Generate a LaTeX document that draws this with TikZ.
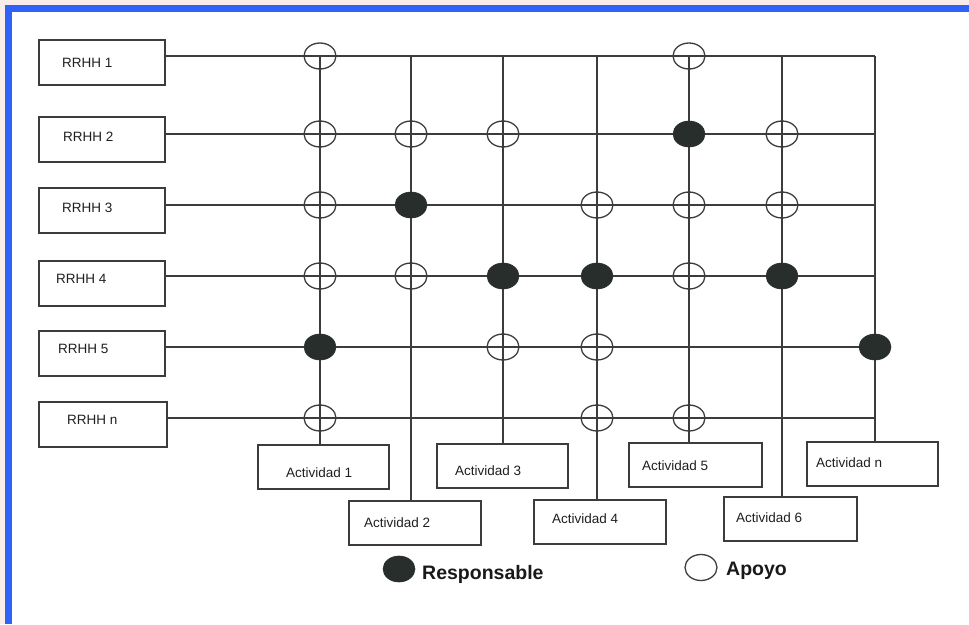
\documentclass[tikz,border=0pt]{standalone}
\usepackage{fontspec}
\setmainfont{Liberation Sans}
\usetikzlibrary{shapes.geometric}
\definecolor{frameblue}{RGB}{47,98,247}
\definecolor{paper}{RGB}{248,237,232}
\definecolor{ink}{RGB}{60,60,60}
\definecolor{dotfill}{RGB}{40,46,43}
\begin{document}
\begin{tikzpicture}[x=1pt,y=-1pt,
  rowbox/.style={draw=ink, line width=1.5pt, minimum width=126pt, minimum height=45pt, inner sep=0pt},
  actbox/.style={draw=ink, line width=1.5pt, minimum width=132pt, minimum height=44pt, inner sep=0pt},
  lbl/.style={anchor=west, inner sep=0pt, text=black!88, font=\fontsize{13.5}{16}\selectfont},
  legtext/.style={anchor=base west, inner sep=0pt, text=black!90, font=\fontsize{19.5}{22}\selectfont\bfseries},
  wire/.style={draw=ink, line width=1.3pt},
  apoyo/.style={ellipse, draw=ink, line width=1.3pt, minimum width=32pt, minimum height=26pt, inner sep=0pt},
  resp/.style={ellipse, fill=dotfill, draw=dotfill, line width=0.6pt, minimum width=32pt, minimum height=26pt, inner sep=0pt}]
\useasboundingbox (0,0) rectangle (969,624);
% page and blue frame
\fill[paper] (0,0) rectangle (969,624);
\fill[white] (11.5,11.5) rectangle (969,624);
\fill[frameblue] (5,5) rectangle (969,11.5);
\fill[frameblue] (5,5) rectangle (11.5,624);

% grid points: rows (resources) x columns (activities)
\foreach \j/\x in {1/320,2/411,3/503,4/597,5/689,6/782,n/875}
  \foreach \i/\y in {1/56,2/134,3/205,4/276,5/347,n/418}
    \coordinate (g-\i-\j) at (\x,\y);

% resource boxes
\node[rowbox] (r-1) at (102,62.5) {};
\node[rowbox] (r-2) at (102,139.5) {};
\node[rowbox] (r-3) at (102,210.5) {};
\node[rowbox] (r-4) at (102,283.5) {};
\node[rowbox] (r-5) at (102,353.5) {};
\node[rowbox, minimum width=128pt] (r-n) at (103,424.5) {};
\node[lbl] (t-r1) at (62,63) {RRHH 1};
\node[lbl] (t-r2) at (63,137) {RRHH 2};
\node[lbl] (t-r3) at (62,208) {RRHH 3};
\node[lbl] (t-r4) at (56,279) {RRHH 4};
\node[lbl] (t-r5) at (58,349) {RRHH 5};
\node[lbl] (t-rn) at (67,420) {RRHH n};

% activity boxes
\node[actbox, minimum width=131pt] (a-1) at (323.5,467) {};
\node[actbox] (a-2) at (415,523) {};
\node[actbox, minimum width=131pt] (a-3) at (502.5,466) {};
\node[actbox] (a-4) at (600,522) {};
\node[actbox, minimum width=133pt] (a-5) at (695.5,465) {};
\node[actbox, minimum width=133pt] (a-6) at (790.5,519) {};
\node[actbox, minimum width=131pt] (a-n) at (872.5,464) {};
\node[lbl] (t-a1) at (286,472.5) {Actividad 1};
\node[lbl] (t-a2) at (364,523) {Actividad 2};
\node[lbl] (t-a3) at (455,470.5) {Actividad 3};
\node[lbl] (t-a4) at (552,519) {Actividad 4};
\node[lbl] (t-a5) at (642,466) {Actividad 5};
\node[lbl] (t-a6) at (736,518) {Actividad 6};
\node[lbl] (t-an) at (816,463) {Actividad n};

% resource lines
\foreach \i in {1,2,3,4,5,n}
  \draw[wire] (r-\i.east |- g-\i-1) -- (g-\i-n);
% activity lines
\foreach \j in {1,2,3,4,5,6,n}
  \draw[wire] (g-1-\j) -- (g-1-\j |- a-\j.north);

% support marks
\foreach \p in {1-1,1-5,2-1,2-2,2-3,2-6,3-1,3-4,3-5,3-6,4-1,4-2,4-5,5-3,5-4,n-1,n-4,n-5}
  \node[apoyo] (m-\p) at (g-\p) {};
% responsible marks
\foreach \p in {2-5,3-2,4-3,4-4,4-6,5-1,5-n}
  \node[resp] (m-\p) at (g-\p) {};

% legend
\node[resp] (leg-r) at (399,569) {};
\node[legtext] (leg-rt) at (422,579) {Responsable};
\node[apoyo] (leg-a) at (701,567.5) {};
\node[legtext] (leg-at) at (726,575) {Apoyo};
\end{tikzpicture}
\end{document}
